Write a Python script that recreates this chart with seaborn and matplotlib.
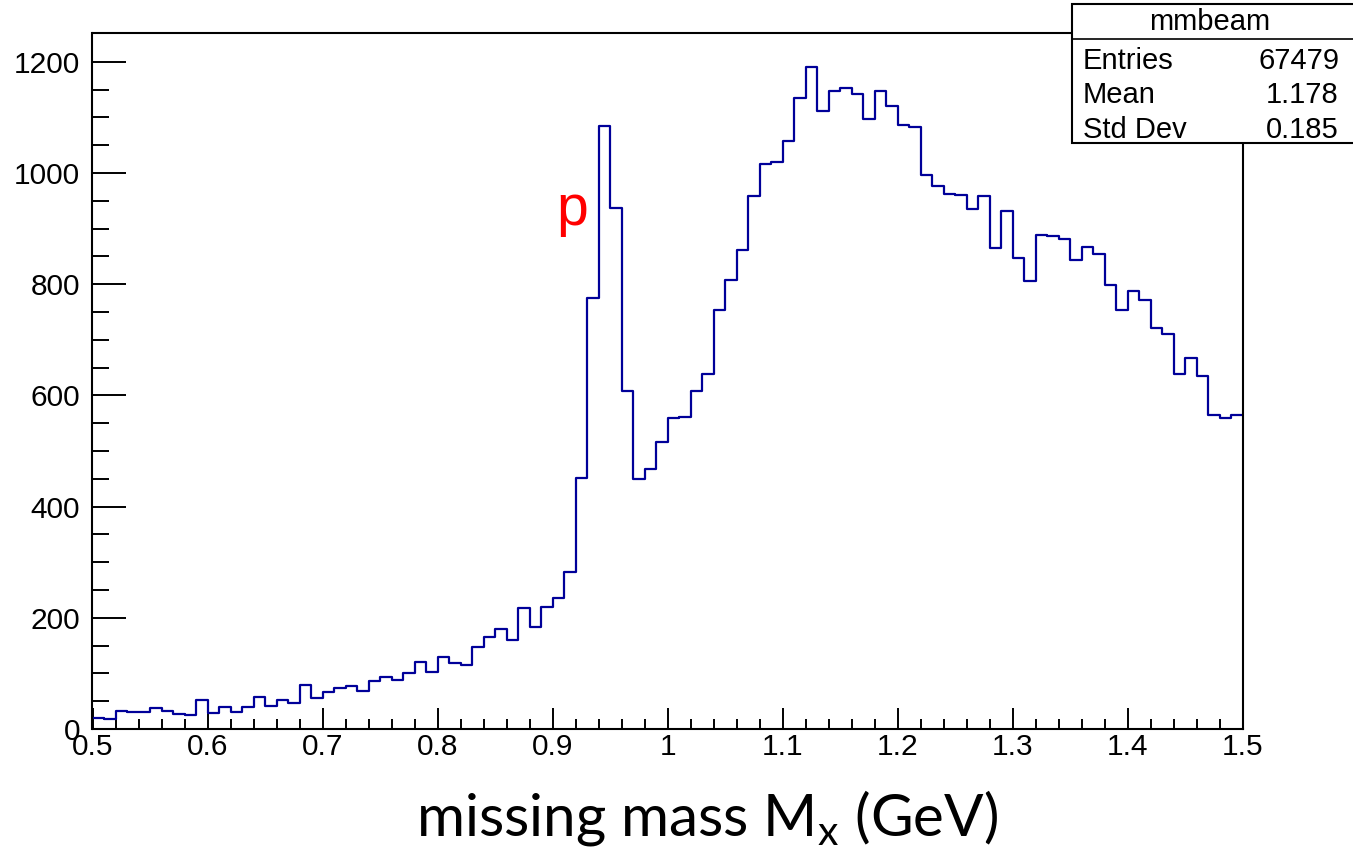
import numpy as np
import pandas as pd
import seaborn as sns
import matplotlib
matplotlib.use("Agg")
import matplotlib.pyplot as plt
from matplotlib.patches import Rectangle
from matplotlib.lines import Line2D
from matplotlib.ticker import MultipleLocator, FixedLocator, FixedFormatter

# ---------------- data ----------------
x_low = 0.5
x_high = 1.5
n_bins = 100
counts = [
    19, 18, 33, 30, 30, 38, 32, 27, 25, 53,
    28, 40, 31, 39, 58, 42, 53, 46, 79, 56,
    67, 73, 78, 69, 86, 93, 89, 101, 121, 102,
    130, 118, 115, 147, 165, 180, 160, 218, 184, 220,
    236, 283, 452, 775, 1085, 937, 608, 450, 468, 516,
    560, 562, 608, 639, 754, 808, 861, 959, 1017, 1020,
    1058, 1135, 1190, 1112, 1147, 1153, 1142, 1097, 1147, 1121,
    1087, 1083, 997, 976, 962, 960, 936, 959, 865, 932,
    848, 805, 888, 886, 882, 843, 867, 855, 798, 753,
    787, 771, 722, 710, 639, 667, 635, 564, 560, 564,
]
x_tick_values = [0.5, 0.6, 0.7, 0.8, 0.9, 1.0, 1.1, 1.2, 1.3, 1.4, 1.5]
x_tick_labels = ["0.5", "0.6", "0.7", "0.8", "0.9", "1", "1.1", "1.2", "1.3", "1.4", "1.5"]
y_tick_values = [0, 200, 400, 600, 800, 1000, 1200]
y_tick_labels = ["0", "200", "400", "600", "800", "1000", "1200"]
y_minor_step = 50
stats_title = "mmbeam"
stats_names = ["Entries", "Mean", "Std Dev"]
stats_values = ["67479", "1.178", "0.185"]
x_label_main = "missing mass M"
x_label_sub = "x"
peak_label = "p"

edges = np.linspace(x_low, x_high, n_bins + 1)
centers = 0.5 * (edges[:-1] + edges[1:])
df = pd.DataFrame({"mx": centers, "n": counts})

# ---------------- style ----------------
sns.set_style("white")
plt.rcParams["font.family"] = ["Liberation Sans", "DejaVu Sans"]
plt.rcParams["text.color"] = "black"
plt.rcParams["xtick.color"] = "black"
plt.rcParams["ytick.color"] = "black"
plt.rcParams["axes.labelcolor"] = "black"

W, H = 1353, 849
fig = plt.figure(figsize=(W / 100, H / 100), dpi=100)
fig.patch.set_facecolor("white")

ax_left, ax_right, ax_top, ax_bottom = 92.5, 1243, 33, 729
ax = fig.add_axes([ax_left / W, 1 - ax_bottom / H,
                   (ax_right - ax_left) / W, (ax_bottom - ax_top) / H])

sns.histplot(data=df, x="mx", weights="n", bins=n_bins, binrange=(x_low, x_high),
             element="step", fill=False, color="#000099", linewidth=1.6, ax=ax)

ax.set_xlim(x_low, x_high)
ax.set_ylim(0, 1252)
ax.set_xlabel("")
ax.set_ylabel("")

for s in ax.spines.values():
    s.set_visible(True)
    s.set_color("black")
    s.set_linewidth(1.5)

ax.xaxis.set_major_locator(FixedLocator(x_tick_values))
ax.xaxis.set_major_formatter(FixedFormatter(x_tick_labels))
ax.xaxis.set_minor_locator(MultipleLocator(0.02))
ax.yaxis.set_major_locator(FixedLocator(y_tick_values))
ax.yaxis.set_major_formatter(FixedFormatter(y_tick_labels))
ax.yaxis.set_minor_locator(FixedLocator(np.arange(0, y_tick_values[-1] + 1, y_minor_step)))

ax.tick_params(axis="x", which="major", direction="in", length=15, width=1.4,
               labelsize=21.5, pad=3, top=False, bottom=True, colors="black")
ax.tick_params(axis="x", which="minor", direction="in", length=7.5, width=1.4,
               top=False, bottom=True, colors="black")
ax.tick_params(axis="y", which="major", direction="in", length=24.5, width=1.4,
               labelsize=21.5, pad=9, left=True, right=False, colors="black")
ax.tick_params(axis="y", which="minor", direction="in", length=12, width=1.4,
               left=True, right=False, colors="black")

# peak label
ax.text(0.9035, 907, peak_label, color="red", fontsize=41,
        family=["Liberation Sans", "DejaVu Sans"], ha="left", va="baseline")

# x-axis title (slide text)
fig.text(707.5 / W, 1 - 835 / H,
         x_label_main + r"$_{\mathregular{" + x_label_sub + r"}}$" + " (GeV)",
         fontsize=42, family=["Lato", "DejaVu Sans"], color="black",
         ha="center", va="baseline")

# stats box
bx0, bx1, by0, by1, bsep = 1072, 1360, 4, 143, 39
fig.patches.append(Rectangle((bx0 / W, 1 - by1 / H), (bx1 - bx0) / W, (by1 - by0) / H,
                             transform=fig.transFigure, facecolor="white",
                             edgecolor="black", linewidth=1.5, zorder=5))
fig.lines.append(Line2D([bx0 / W, 1.0], [1 - bsep / H, 1 - bsep / H],
                        transform=fig.transFigure, color="black", linewidth=1.2, zorder=6))
fig.text(1210 / W, 1 - 22 / H, stats_title, fontsize=21, ha="center", va="center", zorder=7)
row_y = [61, 95, 130]
for name, val, yy in zip(stats_names, stats_values, row_y):
    fig.text(1083 / W, 1 - yy / H, name, fontsize=21, ha="left", va="center", zorder=7)
    fig.text(1339 / W, 1 - yy / H, val, fontsize=21, ha="right", va="center", zorder=7)

fig.savefig("out.png", dpi=100)
